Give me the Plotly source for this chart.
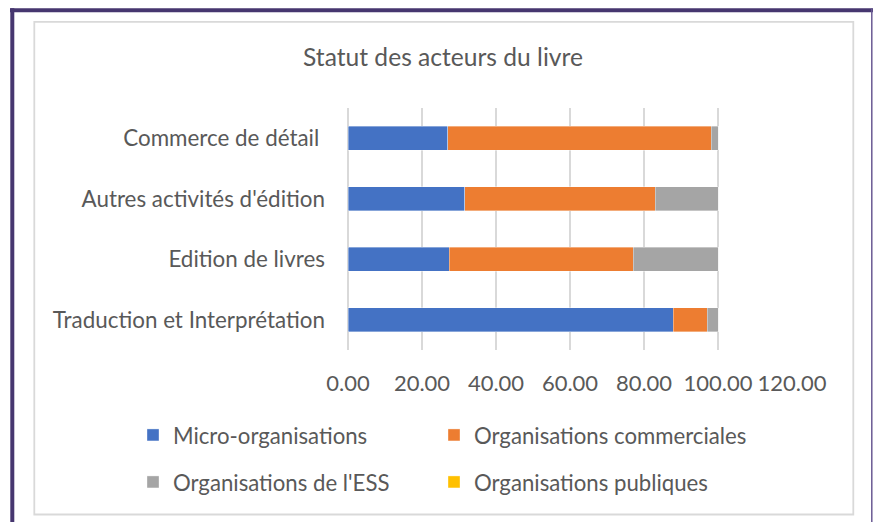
import plotly.graph_objects as go

# Share of each organisation type per book-sector activity (%)
categories = [
    "Traduction et Interprétation",
    "Edition de livres",
    "Autres activités d'édition",
    "Commerce de détail\u00a0",
]
micro = [87.9, 27.3, 31.6, 26.9]
commerciales = [9.2, 49.8, 51.4, 71.3]
ess = [2.9, 22.9, 17.0, 1.8]
publiques = [0.0, 0.0, 0.0, 0.0]

series = [
    ("Micro-organisations", micro, "#4472C4"),
    ("Organisations commerciales", commerciales, "#ED7D31"),
    ("Organisations de l'ESS", ess, "#A5A5A5"),
    ("Organisations publiques", publiques, "#FFC000"),
]

tick_vals = [0, 20, 40, 60, 80, 100, 120]
tick_text = ["0.00", "20.00", "40.00", "60.00", "80.00", "100.00", "120.00"]

W, H = 873, 522
ML, MR, MT, MB = 348, 81, 108, 172
PW, PH = W - ML - MR, H - MT - MB

def px(x):
    return (x - ML) / PW

def py(y):
    return (H - MB - y) / PH

FONT = "Lato"
TXT = "#595959"

# legend grid: two columns, two rows (left edge px, row centre px)
legend_cols = [133, 434]
legend_rows = [435, 482]
legend_ids = ["legend", "legend2", "legend3", "legend4"]

fig = go.Figure()
for i, (name, vals, color) in enumerate(series):
    fig.add_trace(go.Bar(
        y=categories, x=vals, name=name, orientation="h",
        marker=dict(color=color, line=dict(color="rgba(255,255,255,0.6)", width=0.6)),
        legend=legend_ids[i], showlegend=True,
    ))

shapes = [
    # chart area border
    dict(type="rect", xref="paper", yref="paper",
         x0=px(34.3), x1=px(853.3), y0=py(21.8), y1=py(514.5),
         line=dict(color="#D9D9D9", width=1.8), layer="below"),
    # outer frame
    dict(type="line", xref="paper", yref="paper",
         x0=px(10), x1=px(873), y0=py(10.3), y1=py(10.3),
         line=dict(color="#46366F", width=4)),
    dict(type="line", xref="paper", yref="paper",
         x0=px(12.3), x1=px(12.3), y0=py(8.3), y1=py(530),
         line=dict(color="#46366F", width=4)),
    dict(type="line", xref="paper", yref="paper",
         x0=px(871.8), x1=px(871.8), y0=py(8.3), y1=py(530),
         line=dict(color="#6A5A93", width=1.5)),
]

LEG_FONT = dict(family=FONT, size=22.2, color=TXT)

layout_legends = {}
for i, lid in enumerate(legend_ids):
    layout_legends[lid] = dict(
        orientation="h", x=px(legend_cols[i % 2]), xanchor="left",
        y=py(legend_rows[i // 2]), yanchor="middle", font=LEG_FONT,
        bgcolor="rgba(0,0,0,0)",
    )

fig.update_layout(
    width=W, height=H,
    margin=dict(l=ML, r=MR, t=MT, b=MB, pad=0),
    barmode="stack", bargap=0.6, showlegend=True,
    paper_bgcolor="white", plot_bgcolor="white",
    font=dict(family=FONT, size=20, color=TXT),
    title=dict(text="Statut des acteurs du livre", x=443 / W, xref="container",
               xanchor="center", y=1 - 57.5 / H, yref="container", yanchor="middle",
               font=dict(family=FONT, size=24.6, color=TXT)),
    xaxis=dict(range=[0, 120], tickvals=tick_vals, ticktext=tick_text,
               showgrid=True, gridcolor="#D9D9D9", gridwidth=2,
               zeroline=True, zerolinecolor="#D9D9D9", zerolinewidth=2,
               showline=False, ticks="", ticklabelstandoff=18,
               tickfont=dict(family=FONT, size=22, color=TXT)),
    yaxis=dict(showgrid=False, zeroline=False, showline=False, ticks="",
               ticklabelstandoff=22,
               tickfont=dict(family=FONT, size=22.4, color=TXT)),
    shapes=shapes,
    **layout_legends,
)

fig.write_html("out.html")
